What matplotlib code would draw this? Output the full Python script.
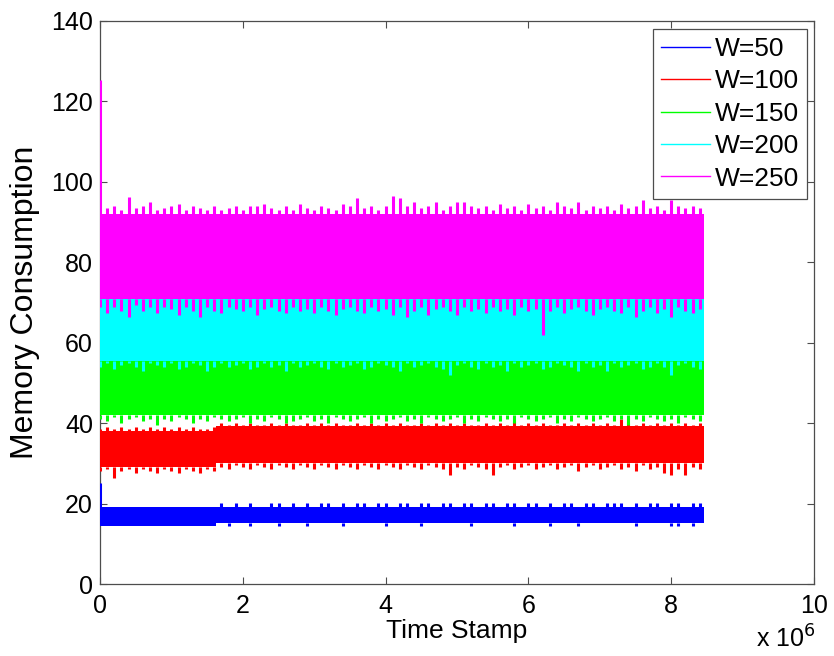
import numpy as np
import matplotlib
matplotlib.use("Agg")
import matplotlib.pyplot as plt
from matplotlib.ticker import FixedLocator, FuncFormatter

plt.rcParams['font.family'] = ['Liberation Sans', 'DejaVu Sans']

# ---------------- data (time in units of 1e6) ----------------
labels = ['W=50', 'W=100', 'W=150', 'W=200', 'W=250']
colors = ['#0000ff', '#ff0000', '#00ff00', '#00ffff', '#ff00ff']

t_end = 8.46
t = np.round(np.arange(0, 8.45, 0.1), 1)  # 85 sample windows

# core band per segment: edges, low, high
w50_seg = [0.0, 1.63, t_end];  w50_core_lo = [14.3, 15.1];  w50_core_hi = [19.2, 19.2]
w100_seg = [0.0, 1.63, t_end]; w100_core_lo = [29.2, 30.0]; w100_core_hi = [38.0, 39.3]
w150_seg = [0.0, t_end];       w150_core_lo = [42.0];       w150_core_hi = [55.8]
w200_seg = [0.0, t_end];       w200_core_lo = [55.5];       w200_core_hi = [71.0]
w250_seg = [0.0, t_end];       w250_core_lo = [70.8];       w250_core_hi = [92.0]

# window maxima / minima
w50_hi = [25.1, 19.2, 19.2, 19.2, 19.2, 19.2, 19.2, 19.2, 19.2, 19.2,
          19.2, 19.2, 19.2, 19.2, 19.2, 19.2, 19.2, 20.1, 19.2, 20.1,
          19.2, 20.1, 19.2, 19.2, 20.1, 20.1, 19.2, 20.1, 19.2, 20.1,
          19.2, 20.1, 20.1, 19.2, 20.1, 19.2, 20.1, 20.1, 19.2, 20.1,
          20.1, 19.2, 20.1, 20.1, 19.2, 20.1, 20.1, 19.2, 20.1, 20.1,
          19.2, 20.1, 20.1, 19.2, 20.1, 20.1, 19.2, 20.1, 20.1, 19.2,
          20.1, 20.1, 19.2, 20.1, 19.2, 20.1, 20.1, 19.2, 20.1, 20.1,
          19.2, 20.1, 20.1, 20.1, 19.2, 20.1, 19.2, 20.1, 20.1, 19.2,
          20.1, 20.1, 19.2, 20.1, 20.1]
w50_lo = [14.3, 14.3, 14.3, 14.3, 14.3, 14.3, 14.3, 14.3, 14.3, 14.3,
          14.3, 14.3, 14.3, 14.3, 14.3, 14.3, 14.3, 15.1, 14.3, 15.1,
          15.1, 14.3, 15.1, 15.1, 15.1, 14.3, 15.1, 15.1, 15.1, 14.3,
          15.1, 15.1, 15.1, 15.1, 14.3, 15.1, 15.1, 15.1, 15.1, 15.1,
          14.3, 15.1, 15.1, 15.1, 15.1, 14.3, 15.1, 15.1, 15.1, 15.1,
          15.1, 15.1, 14.3, 15.1, 15.1, 15.1, 15.1, 15.1, 14.3, 15.1,
          15.1, 15.1, 15.1, 14.3, 15.1, 15.1, 15.1, 14.3, 15.1, 15.1,
          15.1, 15.1, 15.1, 15.1, 15.1, 14.3, 15.1, 15.1, 15.1, 15.1,
          14.3, 14.3, 15.1, 14.3, 15.1]

w100_hi = [38.5, 39, 38.5, 39, 38.5, 39, 38.5, 39, 38.5, 39,
           38.5, 39, 38.5, 39, 38.5, 38.5, 39, 40, 39.5, 40,
           39.5, 40, 39.5, 39.5, 40, 39.5, 40, 39.5, 39.5, 40,
           39.5, 40, 39.5, 40, 39.5, 39.5, 40, 39.5, 40, 39.5,
           40, 39.5, 40, 39.5, 39.5, 40, 39.5, 40, 39.5, 40,
           39.5, 40, 39.5, 39.5, 40, 39.5, 40, 39.5, 40.5, 39.5,
           40, 39.5, 40, 39.5, 39.5, 40, 39.5, 40, 39.5, 40,
           39.5, 40, 39.5, 41, 40, 39.5, 40, 39.5, 40, 39.5,
           40, 39.5, 40, 39.5, 40]
w100_lo = [28, 28.5, 26.3, 28, 28.5, 27.5, 28.5, 28, 27.5, 28.5,
           28, 27.5, 28.5, 28, 27.5, 28.5, 28, 29, 28.5, 29.5,
           29, 28.5, 29.5, 29, 28.5, 29.5, 29, 28.5, 29.5, 29,
           28.5, 29.5, 29, 28.5, 29.5, 29, 28.5, 29.5, 29, 28.5,
           29.5, 29, 28.5, 29.5, 29, 28.5, 29.5, 29, 28.5, 27,
           29, 28.5, 29.5, 29, 28.5, 27, 29, 29.5, 28.5, 29,
           29.5, 28.5, 29, 29.5, 28.5, 29, 29.5, 28, 29, 29.5,
           28.5, 29, 29.5, 28.5, 29, 28, 29.5, 28.5, 29, 27.5,
           27, 28.5, 27, 29, 28.5]

w150_lo = [41, 40.5, 41.5, 40, 41, 41.5, 40.5, 41, 39.5, 41,
           40.5, 41.5, 41, 40, 41, 40.5, 41.5, 41, 40.5, 41,
           41.5, 40, 41, 40.5, 41.5, 41, 40, 40.5, 41, 41.5,
           40.5, 41, 40, 41.5, 41, 40.5, 41, 41.5, 40, 41,
           40.5, 41, 41.5, 40.5, 41, 40, 41.5, 41, 40.5, 41,
           41.5, 40, 41, 40.5, 41.5, 41, 40.5, 41, 40, 41.5,
           41, 40.5, 41, 41.5, 40, 41, 40.5, 41.5, 41, 40.5,
           41, 41.5, 40.5, 41, 39.5, 41, 40.5, 41.5, 41, 40.5,
           41, 40, 41.5, 41, 40.5]

w200_lo = [54, 55, 53.5, 54.5, 55, 54, 53, 55, 54.5, 54,
           55, 53.5, 54, 55, 54.5, 53, 54, 55, 54, 54.5,
           55, 53.5, 54, 55, 54, 54.5, 53, 55, 54, 54.5,
           55, 54, 53.5, 55, 54, 54.5, 55, 53.5, 54, 55,
           54.5, 54, 53, 55, 54, 54.5, 55, 54, 53.5, 52,
           54.5, 55, 54, 53.5, 55, 54, 54.5, 53, 55, 54,
           54.5, 55, 53.5, 54, 55, 54.5, 54, 53, 55, 54,
           54.5, 53, 55, 54, 54.5, 55, 53.5, 54, 55, 54,
           52, 54.5, 55, 54, 53.5]

w250_hi = [125.3, 93.5, 94, 93, 96.3, 93.5, 94, 95, 93, 93.5,
           94, 94.5, 93, 94, 93.5, 93, 94, 93, 93.5, 94,
           93, 94, 94, 94.5, 93.5, 93, 94, 93, 94.5, 93.5,
           93, 94, 93.5, 93, 94.5, 94, 96, 93.5, 94, 93,
           94, 96.5, 96, 94, 95, 93.5, 94, 95, 93, 94,
           95, 95, 94, 93.5, 94, 93, 94.5, 93.5, 94, 93,
           94.5, 93.5, 94, 93, 95, 94, 93.5, 95, 93, 94,
           93.5, 94, 93, 94.5, 93.5, 94, 95.5, 93.5, 94, 93,
           95.5, 94, 93.5, 94, 93.5]
w250_lo = [69, 67.5, 69, 68, 66.5, 69.5, 68, 69, 67.5, 69,
           68.5, 67, 69, 68, 66.5, 69, 68, 67.5, 69, 68.5,
           68, 69, 67, 68.5, 69, 68, 67.5, 69, 68, 68.5,
           67.5, 69, 68, 67, 68.5, 69, 68, 67.5, 69, 68,
           68.5, 67, 69, 66.5, 68, 69, 67, 68.5, 69, 68,
           67, 69, 68, 68.5, 67.5, 69, 68, 68.5, 67, 69,
           68, 68.5, 62, 68, 69, 67.5, 68.5, 69, 68, 67,
           68.5, 69, 68, 67.5, 69, 66.5, 68, 69, 67.5, 68.5,
           66.5, 69, 68, 67.5, 68.5]

series = [
    (w50_seg, w50_core_lo, w50_core_hi, w50_hi, w50_lo),
    (w100_seg, w100_core_lo, w100_core_hi, w100_hi, w100_lo),
    (w150_seg, w150_core_lo, w150_core_hi, None, w150_lo),
    (w200_seg, w200_core_lo, w200_core_hi, None, w200_lo),
    (w250_seg, w250_core_lo, w250_core_hi, w250_hi, w250_lo),
]

# ---------------- figure ----------------
fig = plt.figure(figsize=(8.34, 6.56), dpi=100)
ax = fig.add_axes([100 / 834, 1 - 584 / 656, 714 / 834, 563 / 656])

SCALE = 1e6
for z, ((seg, clo, chi, hi, lo), c, lab) in enumerate(zip(series, colors, labels)):
    seg = np.asarray(seg)
    clo = np.asarray(clo); chi = np.asarray(chi)
    for k in range(len(clo)):
        ax.fill_between([seg[k] * SCALE, seg[k + 1] * SCALE], clo[k], chi[k],
                        color=c, lw=0, zorder=3 + z * 0.1)
    idx = np.clip(np.searchsorted(seg, t, side='right') - 1, 0, len(clo) - 1)
    if hi is not None:
        ax.vlines(t * SCALE, chi[idx], hi, color=c, lw=2.2,
                  zorder=3 + z * 0.1)
    if lo is not None:
        ax.vlines(t * SCALE, lo, clo[idx], color=c, lw=2.2,
                  zorder=3 + z * 0.1)
    ax.plot([], [], color=c, lw=1.0, label=lab)

ax.set_xlim(0, 10 * SCALE)
ax.set_ylim(0, 140)
ax.xaxis.set_major_locator(FixedLocator(np.arange(0, 11, 2) * SCALE))
ax.xaxis.set_major_formatter(FuncFormatter(lambda v, p: f"{v / SCALE:g}"))
ax.yaxis.set_major_locator(FixedLocator(np.arange(0, 141, 20)))

for s in ax.spines.values():
    s.set_color('0.3')
    s.set_linewidth(0.9)
    s.set_zorder(2.5)
ax.tick_params(axis='both', which='both', direction='in', length=5, width=0.8,
               color='0.3', top=True, right=True, labelsize=18, labelcolor='black')
ax.tick_params(axis='x', pad=7)
ax.tick_params(axis='y', pad=5)

ax.set_xlabel('Time Stamp', fontsize=19, labelpad=1)
ax.set_ylabel('Memory Consumption', fontsize=23, labelpad=8)

fig.text(756 / 834, 1 - 648 / 656, r'x 10$^{6}$', fontsize=18, ha='left', va='baseline')

leg = ax.legend(loc='upper right', bbox_to_anchor=(707 / 714, 555 / 563),
                borderaxespad=0, fontsize=19, fancybox=False, framealpha=1,
                edgecolor='0.3', handlelength=1.85, handletextpad=0.2,
                labelspacing=0.32, borderpad=0.3)
leg.get_frame().set_linewidth(0.9)
leg.set_zorder(10)

fig.savefig('out.png', dpi=100)
